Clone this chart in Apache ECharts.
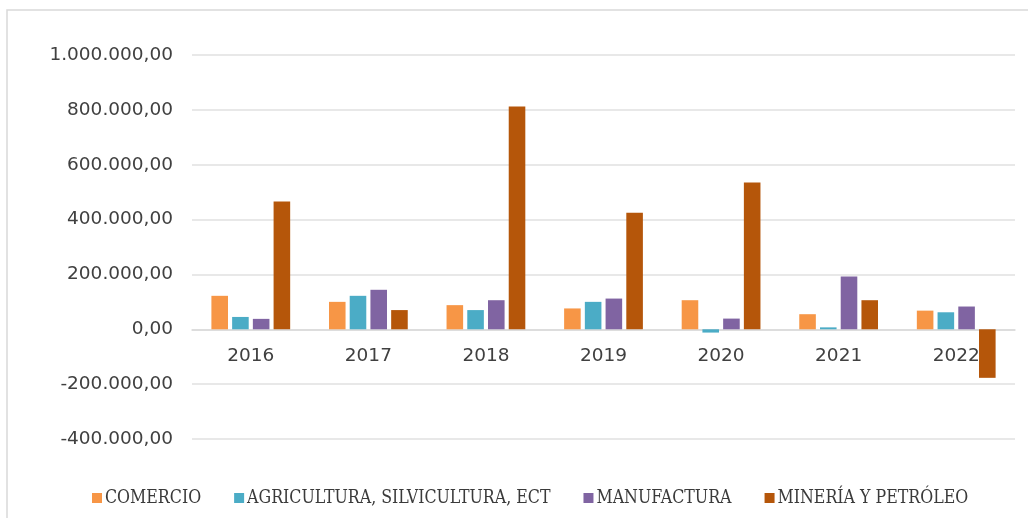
<!DOCTYPE html>
<html>
<head>
<meta charset="utf-8">
<script src="https://cdn.jsdelivr.net/npm/echarts@6/dist/echarts.min.js"></script>
<style>
  html, body { margin: 0; padding: 0; background: #fff; }
  #main { width: 1028px; height: 518px; }
</style>
</head>
<body>
<div id="main"></div>
<script>
// años y valores
var years = ['2016', '2017', '2018', '2019', '2020', '2021', '2022'];
var comercio = [122000, 100000, 88000, 76000, 106000, 55000, 68000];
var agricultura = [45000, 122000, 70000, 100000, -12000, 7000, 62000];
var manufactura = [38000, 144000, 106000, 112000, 39000, 192000, 83000];
var mineria = [466000, 70000, 812000, 425000, 535000, 106000, -177000];

var seriesNames = ['COMERCIO', 'AGRICULTURA, SILVICULTURA, ECT', 'MANUFACTURA', 'MINERÍA Y PETRÓLEO'];
var colors = ['#F79646', '#4BACC6', '#8064A2', '#B5560A'];

// formato 1.000.000,00
function fmt(v) {
    var neg = v < 0;
    var s = Math.abs(v).toFixed(0).replace(/\B(?=(\d{3})+(?!\d))/g, '.');
    return (neg ? '-' : '') + s + ',00';
}

var myChart = echarts.init(document.getElementById('main'));

var dataList = [comercio, agricultura, manufactura, mineria];
var series = [];
for (var i = 0; i < dataList.length; i++) {
    series.push({
        name: seriesNames[i],
        type: 'bar',
        data: dataList[i],
        barGap: '25%',
        barCategoryGap: '33%',
        itemStyle: { color: colors[i] }
    });
}

myChart.setOption({
    animation: false,
    color: colors,
    graphic: [{
        type: 'rect',
        shape: { x: 7, y: 10, width: 1040, height: 540 },
        style: { fill: 'none', stroke: '#d9d9d9', lineWidth: 1.5 },
        silent: true
    }],
    grid: { left: 192, right: 13, top: 55, bottom: 79 },
    legend: {
        data: seriesNames,
        left: 87,
        top: 484,
        itemWidth: 10,
        itemHeight: 10,
        itemGap: 33,
        icon: 'rect',
        textStyle: {
            fontFamily: 'DejaVu Serif Condensed',
            fontSize: 17.6,
            color: '#3a3a3a',
            padding: [0, 0, 0, -2]
        }
    },
    xAxis: {
        type: 'category',
        data: years,
        axisTick: { show: false },
        axisLine: { onZero: false, lineStyle: { color: '#d9d9d9', width: 1.5 } },
        axisLabel: {
            margin: 17,
            fontFamily: 'DejaVu Sans',
            fontSize: 18.5,
            color: '#404040'
        }
    },
    yAxis: {
        type: 'value',
        min: -400000,
        max: 1000000,
        interval: 200000,
        axisLine: { show: false },
        axisTick: { show: false },
        splitLine: { lineStyle: { color: '#e0e0e0', width: 1.5 } },
        axisLabel: {
            margin: 19,
            fontFamily: 'DejaVu Sans',
            fontSize: 18.5,
            color: '#404040',
            formatter: fmt
        }
    },
    series: series
});

// llevar el eje de categorías a la línea del cero
var zeroY = myChart.convertToPixel({ yAxisIndex: 0 }, 0);
var bottomY = myChart.convertToPixel({ yAxisIndex: 0 }, -400000);
myChart.setOption({
    xAxis: { offset: -(bottomY - zeroY) }
});
</script>
</body>
</html>
